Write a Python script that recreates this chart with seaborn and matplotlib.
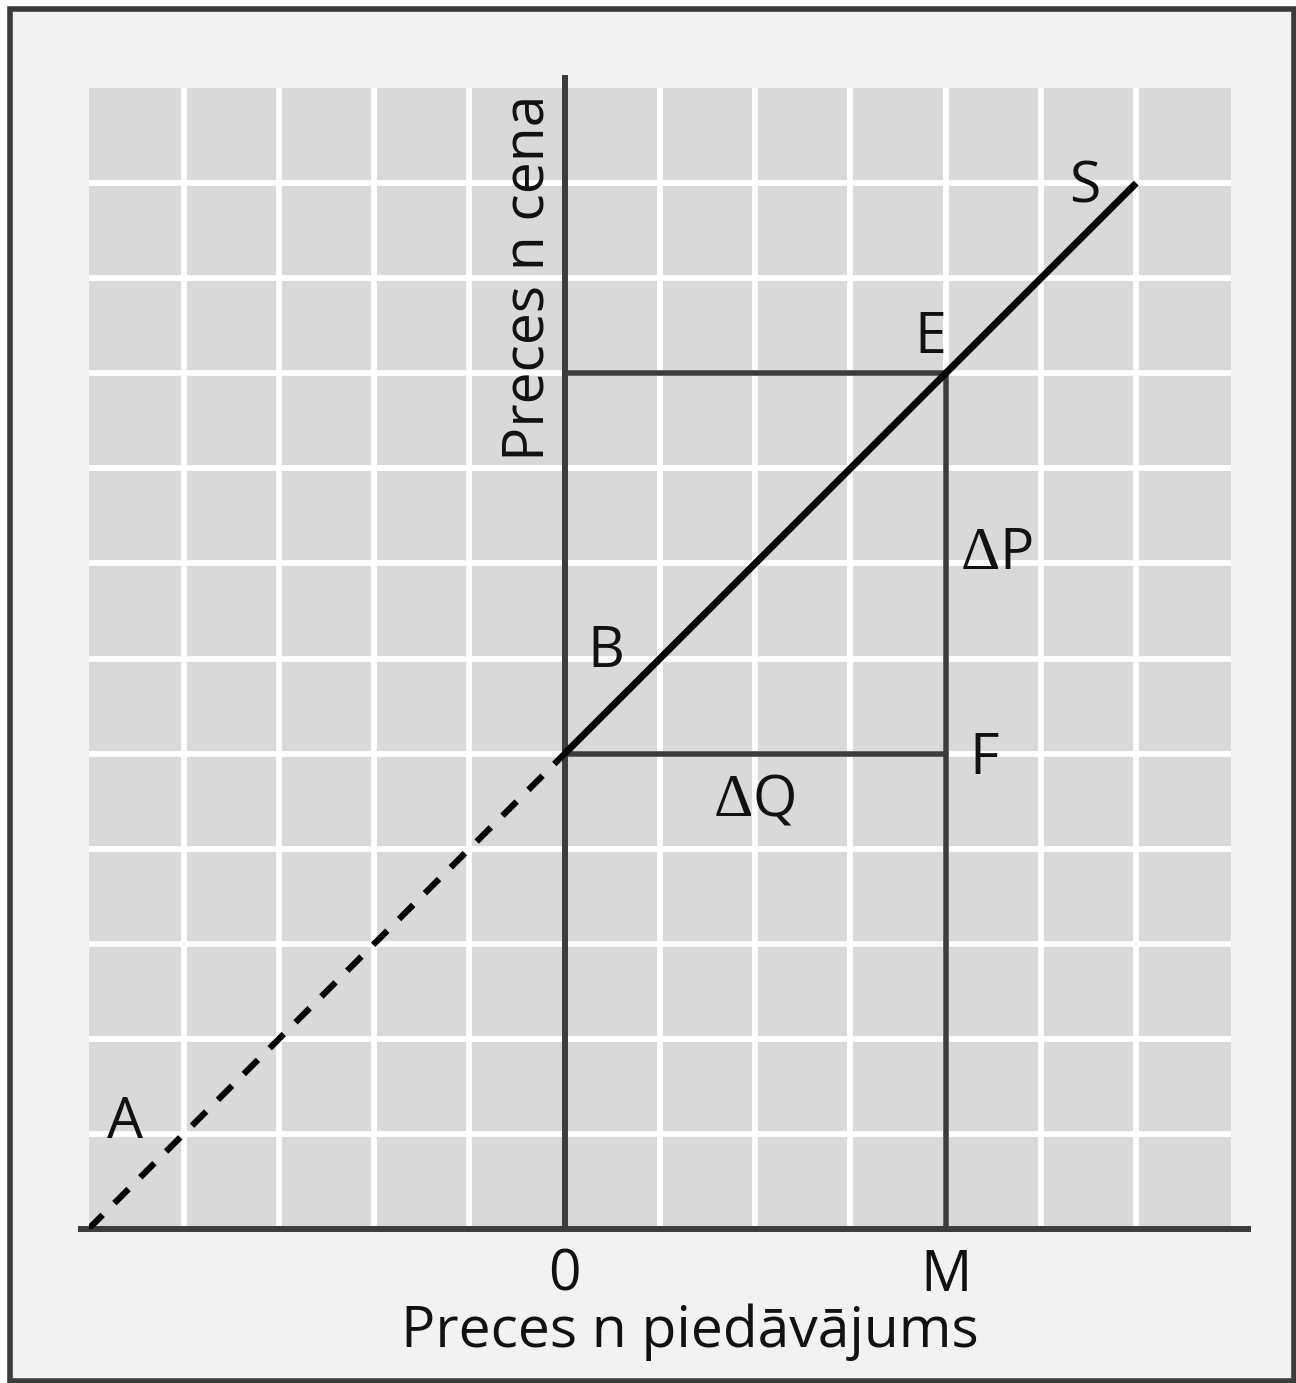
import matplotlib
matplotlib.use("Agg")
import matplotlib.pyplot as plt
from matplotlib.patches import Rectangle
import seaborn as sns
import pandas as pd

# ---- data ----
supply_q = [0, 6]          # solid supply curve S
supply_p = [5, 11]
extension_q = [-5, 0]      # dashed extension towards A
extension_p = [0, 5]
point_E = (4, 9)
point_F = (4, 5)
point_B = (0, 5)
x_tick_values = [0, 4]
x_tick_labels = ["0", "M"]
x_title = "Preces n piedāvājums"
y_title = "Preces n cena"
grid_x = list(range(-4, 7))
grid_y = list(range(1, 12))
x_range = (-5, 7)
y_range = (0, 12)

sns.set_theme(style="white")
plt.rcParams["font.family"] = ["Open Sans", "DejaVu Sans"]

FS = 41
DARK = "#3c3c3c"
TXT = "#111111"

fig = plt.figure(figsize=(12.96, 13.83), dpi=100)
fig.patch.set_facecolor("white")
fig.patches.append(Rectangle((0.0081, 0.0018), 0.9907, 0.9917,
                             transform=fig.transFigure, facecolor="#f2f2f2",
                             edgecolor="#3a3a3a", lw=4, zorder=-5))

ax = fig.add_axes([0.0683, 0.11135, 0.8819, 0.82502])
ax.set_zorder(2)
ax.set_facecolor("#d9d9d9")
ax.set_xlim(*x_range)
ax.set_ylim(*y_range)
for s in ax.spines.values():
    s.set_visible(False)

# supply curve and its dashed extension
df_s = pd.DataFrame({"q": supply_q, "p": supply_p})
df_e = pd.DataFrame({"q": extension_q, "p": extension_p})
sns.lineplot(data=df_s, x="q", y="p", ax=ax, color="black", lw=5,
             sort=False, estimator=None, zorder=4, solid_capstyle="butt")
sns.lineplot(data=df_e, x="q", y="p", ax=ax, color="black", lw=4.5,
             sort=False, estimator=None, zorder=4, dashes=False)
ax.lines[-1].set_dashes((3.2, 2.65))
ax.lines[-1].set_dash_capstyle("butt")
ax.set_xlim(*x_range)
ax.set_ylim(*y_range)
ax.set_xlabel("")
ax.set_ylabel("")

# grid
ax.set_xticks(grid_x, minor=True)
ax.set_yticks(grid_y, minor=True)
ax.set_xticks(x_tick_values, labels=x_tick_labels)
ax.set_yticks([])
ax.tick_params(axis="both", which="both", length=0)
ax.tick_params(axis="x", which="major", labelsize=FS, pad=13.5, labelcolor=TXT)
ax.grid(which="both", axis="x", color="white", lw=4.2)
ax.grid(which="minor", axis="y", color="white", lw=4.2)
ax.set_axisbelow(True)

# axes lines
ax.plot([x_range[0] - 0.11, x_range[1] + 0.21], [0, 0], color=DARK, lw=4.3,
        clip_on=False, solid_capstyle="butt", zorder=3)
ax.plot([0, 0], [0, y_range[1] + 0.14], color=DARK, lw=4.3,
        clip_on=False, solid_capstyle="butt", zorder=3)

# guide lines
ax.plot([0, point_E[0]], [point_E[1], point_E[1]], color=DARK, lw=4,
        solid_capstyle="butt", zorder=3)
ax.plot([point_E[0], point_E[0]], [0, point_E[1]], color=DARK, lw=4,
        solid_capstyle="butt", zorder=3)
ax.plot([point_B[0], point_F[0]], [point_B[1], point_F[1]], color=DARK, lw=4,
        solid_capstyle="butt", zorder=3)

# axis titles
ax.text(1.31, -1.24, x_title, fontsize=FS, ha="center", va="baseline",
        color=TXT, clip_on=False)
ax.text(-0.22, 10.0, y_title, fontsize=FS, ha="center", va="baseline",
        rotation=90, rotation_mode="anchor", color=TXT, zorder=5)

# point labels
labels = [("S", 5.46, 10.80), ("E", 3.84, 9.21), ("B", 0.43, 5.91),
          ("F", 4.40, 4.79), ("A", -4.62, 0.96)]
for t, x, y in labels:
    ax.text(x, y, t, fontsize=FS, ha="center", va="baseline", color=TXT, zorder=5)

for letter, x, y in [("P", 4.567, 6.94), ("Q", 1.974, 4.34)]:
    ax.text(x, y, "Δ", fontsize=44, ha="right", va="baseline", color=TXT,
            family=["Liberation Serif", "DejaVu Serif"], zorder=5)
    ax.text(x, y, letter, fontsize=FS, ha="left", va="baseline", color=TXT, zorder=5)

fig.savefig("out.png", dpi=100)
